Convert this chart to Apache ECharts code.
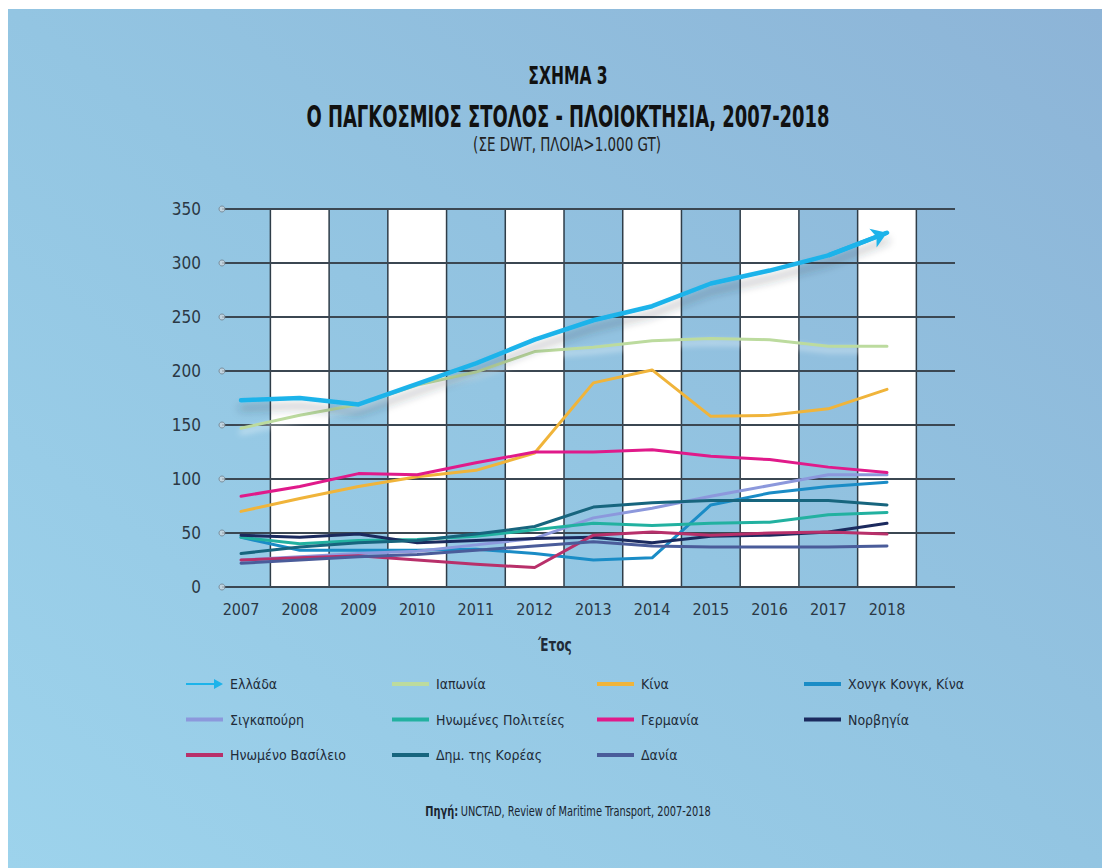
<!DOCTYPE html>
<html>
<head>
<meta charset="utf-8">
<script src="https://cdn.jsdelivr.net/npm/echarts@6/dist/echarts.min.js"></script>
<style>
  html, body { margin: 0; padding: 0; background: #ffffff; }
  #chart { width: 1102px; height: 868px; }
</style>
</head>
<body>
<div id="chart"></div>
<script>
// Years on the horizontal axis and value ticks (million DWT)
const years = [2007, 2008, 2009, 2010, 2011, 2012, 2013, 2014, 2015, 2016, 2017, 2018];
const yTicks = [0, 50, 100, 150, 200, 250, 300, 350];

// Fleet ownership per country, million DWT
const greece    = [173, 175, 169, 188, 207, 229, 247, 260, 281, 293, 307, 328];
const japan     = [147, 159, 169, 187, 199, 218, 222, 228, 230, 229, 223, 223];
const china     = [70, 82, 93, 102, 108, 124, 189, 201, 158, 159, 165, 183];
const hongKong  = [46, 34, 34, 34, 35, 31, 25, 27, 76, 87, 93, 97];
const singapore = [25, 28, 31, 33, 39, 45, 64, 73, 84, 94, 104, 104];
const usa       = [46, 40, 43, 44, 47, 53, 59, 57, 59, 60, 67, 69];
const germany   = [84, 93, 105, 104, 115, 125, 125, 127, 121, 118, 111, 106];
const norway    = [48, 46, 49, 41, 43, 45, 46, 41, 47, 48, 51, 59];
const uk        = [25, 27, 29, 25, 21, 18, 48, 51, 48, 50, 51, 49];
const korea     = [31, 37, 41, 43, 49, 56, 74, 78, 80, 80, 80, 76];
const denmark   = [22, 25, 28, 30, 34, 38, 42, 38, 37, 37, 37, 38];

const FONT = "'DejaVu Sans Condensed', 'Liberation Sans Narrow', sans-serif";
const TEXT_DARK = '#1f2b38';

const countries = [
  { name: 'Ελλάδα',             data: greece,    color: '#1cb3ea', width: 4.5 },
  { name: 'Ιαπωνία',            data: japan,     color: '#bcdb9e', width: 3 },
  { name: 'Κίνα',               data: china,     color: '#f0b43a', width: 3 },
  { name: 'Χονγκ Κονγκ, Κίνα',  data: hongKong,  color: '#1a8cc6', width: 3 },
  { name: 'Σιγκαπούρη',         data: singapore, color: '#8c98dc', width: 3 },
  { name: 'Ηνωμένες Πολιτείες', data: usa,       color: '#22b1a0', width: 3 },
  { name: 'Γερμανία',           data: germany,   color: '#e01a8a', width: 3 },
  { name: 'Νορβηγία',           data: norway,    color: '#1b2a5e', width: 3 },
  { name: 'Ηνωμένο Βασίλειο',   data: uk,        color: '#b8306a', width: 3 },
  { name: 'Δημ. της Κορέας',    data: korea,     color: '#17657e', width: 3 },
  { name: 'Δανία',              data: denmark,   color: '#4a5c9a', width: 3 }
];

// x range leaves a half band before 2007 and extra room after 2018
const xMin = 2006.676;
const xMax = 2019.158;

const lineSeries = countries.map((c, i) => ({
  name: c.name,
  type: 'line',
  z: 5 + (i === 0 ? 2 : 0),
  color: c.color,
  showSymbol: false,
  symbol: 'none',
  smooth: false,
  silent: true,
  data: years.map((y, k) => [y, c.data[k]]),
  lineStyle: Object.assign(
    { color: c.color, width: c.width, cap: 'round', join: 'round' },
    i === 0 ? { shadowColor: 'rgba(40,50,60,0.35)', shadowBlur: 9, shadowOffsetY: 8 } : {},
    i === 1 ? { shadowColor: 'rgba(255,255,255,0.7)', shadowBlur: 6, shadowOffsetY: 4 } : {}
  )
}));

// white year bands for every second year
const stripeBands = years
  .filter((y, i) => i % 2 === 1)
  .map(y => [{ xAxis: y - 0.5 }, { xAxis: y + 0.5 }]);

const stripeSeries = {
  name: 'bands',
  type: 'line',
  z: 1,
  data: [],
  silent: true,
  markArea: {
    silent: true,
    itemStyle: { color: '#ffffff', borderColor: '#2f3d48', borderWidth: 1.5 },
    data: stripeBands
  }
};

// small ring markers at the left end of each gridline
const tickRings = {
  name: 'rings',
  type: 'scatter',
  z: 6,
  silent: true,
  clip: false,
  symbol: 'circle',
  symbolSize: 6,
  itemStyle: { color: '#c9d6df', borderColor: '#6f7e8a', borderWidth: 1 },
  data: yTicks.map(v => [xMin, v])
};

// arrow head on the last Greek segment
const last = years.length - 1;
const greekArrow = {
  name: 'arrow',
  type: 'lines',
  coordinateSystem: 'cartesian2d',
  z: 8,
  silent: true,
  symbol: ['none', 'arrow'],
  symbolSize: 15,
  lineStyle: { color: '#1cb3ea', width: 4.5, opacity: 1 },
  data: [{ coords: [[years[last - 1], greece[last - 1]], [years[last], greece[last]]] }]
};

function legendBlock(names, left, top, extra) {
  return Object.assign({
    orient: 'vertical',
    left: left,
    top: top,
    padding: 0,
    itemGap: 15.5,
    itemWidth: 37,
    itemHeight: 4,
    icon: 'rect',
    selectedMode: false,
    textStyle: { fontFamily: FONT, fontSize: 14, color: TEXT_DARK, lineHeight: 20, padding: [0, 0, 0, 2] },
    data: names
  }, extra || {});
}

// narrow heading text: drawn at full height, squeezed horizontally
function headingText(text, x, y, font, sx, fill) {
  return {
    type: 'text', x: x, y: y, z: 10, scaleX: sx, silent: true,
    style: { text: text, font: font, fill: fill, textAlign: 'center', textVerticalAlign: 'middle' }
  };
}

const chart = echarts.init(document.getElementById('chart'), null, { renderer: 'svg' });

chart.setOption({
  backgroundColor: '#ffffff',
  animation: false,
  graphic: [
    {
      type: 'rect',
      z: -10,
      silent: true,
      shape: { x: 8, y: 9, width: 1094, height: 859 },
      style: {
        fill: {
          type: 'linear', x: 1, y: 0, x2: 0, y2: 1,
          colorStops: [
            { offset: 0, color: '#8db4d7' },
            { offset: 0.5, color: '#93c5e2' },
            { offset: 1, color: '#9dd3ec' }
          ]
        }
      }
    },
    headingText('ΣΧΗΜΑ 3', 568, 76, 'bold 24px ' + FONT, 0.72, '#111111'),
    headingText('Ο ΠΑΓΚΟΣΜΙΟΣ ΣΤΟΛΟΣ - ΠΛΟΙΟΚΤΗΣΙΑ, 2007-2018', 568, 116, 'bold 30px ' + FONT, 0.665, '#111111'),
    headingText('(ΣΕ DWT, ΠΛΟΙΑ>1.000 GT)', 567, 144, '20px ' + FONT, 0.75, '#222222'),
    headingText('Έτος', 555, 645, 'bold 18px ' + FONT, 0.75, TEXT_DARK),
    {
      type: 'text', x: 568, y: 811, z: 10, scaleX: 0.78, silent: true,
      style: {
        text: '{b|Πηγή:} {n|UNCTAD, Review of Maritime Transport, 2007-2018}',
        textAlign: 'center', textVerticalAlign: 'middle',
        rich: {
          b: { font: 'bold 14px ' + FONT, fill: '#1a2530' },
          n: { font: '14px ' + FONT, fill: '#1a2530' }
        }
      }
    }
  ],
  grid: { left: 222, right: 147, top: 209, bottom: 281, containLabel: false },
  xAxis: {
    type: 'value',
    min: xMin,
    max: xMax,
    axisLine: { show: false },
    axisTick: { show: false },
    splitLine: { show: false },
    axisLabel: {
      customValues: years,
      formatter: v => String(Math.round(v)),
      margin: 14,
      fontFamily: FONT,
      fontSize: 16,
      color: '#2b3844'
    }
  },
  yAxis: {
    type: 'value',
    min: 0,
    max: 350,
    interval: 50,
    z: 3,
    axisLine: { show: false },
    axisTick: { show: false },
    axisLabel: { margin: 21, fontFamily: FONT, fontSize: 17, color: '#2b3844' },
    splitLine: { lineStyle: { color: '#3b4752', width: 1.8 } }
  },
  legend: [
    legendBlock(['Ελλάδα'], 186, 674, {
      itemHeight: 10,
      icon: 'path://M0,4L28,4L28,0L37,5L28,10L28,6L0,6Z'
    }),
    legendBlock(['Σιγκαπούρη', 'Ηνωμένο Βασίλειο'], 186, 709.5),
    legendBlock(['Ιαπωνία', 'Ηνωμένες Πολιτείες', 'Δημ. της Κορέας'], 392, 674),
    legendBlock(['Κίνα', 'Γερμανία', 'Δανία'], 597, 674),
    legendBlock(['Χονγκ Κονγκ, Κίνα', 'Νορβηγία'], 804, 674)
  ],
  series: [stripeSeries].concat(lineSeries, [greekArrow, tickRings])
});
</script>
</body>
</html>
